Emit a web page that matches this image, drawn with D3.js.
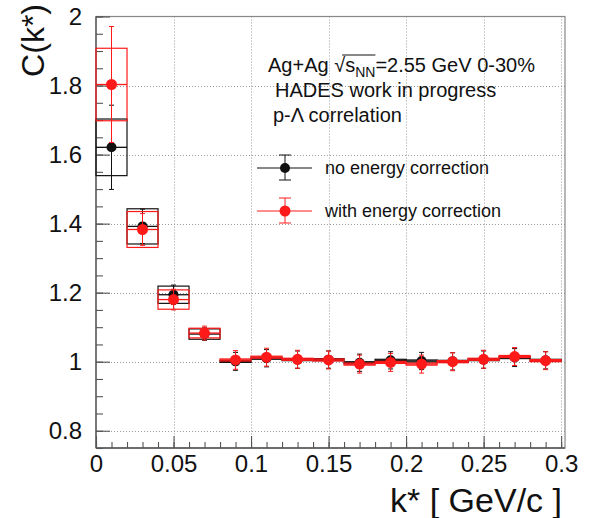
<!DOCTYPE html>
<html>
<head>
<meta charset="utf-8">
<script src="https://cdn.jsdelivr.net/npm/d3@7"></script>
<style>
  html, body { margin: 0; padding: 0; background: #fff; }
  svg { display: block; font-family: "Liberation Sans", Arial, Helvetica, sans-serif; }
</style>
</head>
<body>
<svg id="chart" width="594" height="518"></svg>
<script>
// ---- data ----
const kStar = [0.01, 0.03, 0.05, 0.07, 0.09, 0.11, 0.13, 0.15, 0.17, 0.19, 0.21, 0.23, 0.25, 0.27, 0.29];
const binHalfWidth = 0.01;

const noCorr     = [1.621, 1.392, 1.194, 1.080, 1.001, 1.010, 1.006, 1.006, 0.997, 1.004, 1.002, 1.001, 1.006, 1.012, 1.004];
const noCorrStat = [0.122, 0.050, 0.028, 0.018, 0.026, 0.025, 0.025, 0.025, 0.025, 0.025, 0.025, 0.025, 0.025, 0.026, 0.025];
const noCorrSys  = [0.082, 0.051, 0.025, 0.015, 0.003, 0.003, 0.003, 0.003, 0.003, 0.003, 0.003, 0.003, 0.003, 0.003, 0.003];

const withCorr     = [1.803, 1.383, 1.180, 1.083, 1.005, 1.013, 1.007, 1.005, 0.993, 0.998, 0.993, 1.000, 1.007, 1.015, 1.003];
const withCorrStat = [0.168, 0.046, 0.030, 0.020, 0.027, 0.026, 0.026, 0.026, 0.026, 0.026, 0.026, 0.026, 0.026, 0.026, 0.026];
const withCorrSys  = [0.105, 0.052, 0.028, 0.014, 0.003, 0.003, 0.003, 0.003, 0.003, 0.003, 0.003, 0.003, 0.003, 0.003, 0.003];

const xMajorTicks = [0, 0.05, 0.1, 0.15, 0.2, 0.25, 0.3];
const xTickLabels = ["0", "0.05", "0.1", "0.15", "0.2", "0.25", "0.3"];
const yMajorTicks = [0.8, 1, 1.2, 1.4, 1.6, 1.8, 2];
const yTickLabels = ["0.8", "1", "1.2", "1.4", "1.6", "1.8", "2"];
const xMinorTicks = d3.range(0, 0.3001, 0.01);
const yMinorTicks = d3.range(0.75, 2.0001, 0.05);

const seriesNames = ["no energy correction", "with energy correction"];
const headerLines = ["HADES work in progress", "p-\u039B correlation"];

// ---- layout ----
const L = 96, R = 565, T = 16.5, B = 448;
const x = d3.scaleLinear().domain([0, 0.3025]).range([L, R]);
const y = d3.scaleLinear().domain([0.75, 2.0]).range([B, T]);

const svg = d3.select("#chart");

// grid
const grid = svg.append("g").attr("stroke", "#9a9a9a").attr("stroke-width", 1).attr("stroke-dasharray", "1,2");
grid.selectAll("line.gx").data(xMajorTicks.filter(d => d > 0)).enter().append("line")
  .attr("x1", d => Math.round(x(d)) + 0.5).attr("x2", d => Math.round(x(d)) + 0.5)
  .attr("y1", T).attr("y2", B);
grid.selectAll("line.gy").data(yMajorTicks.filter(d => d < 2)).enter().append("line")
  .attr("y1", d => Math.round(y(d)) + 0.5).attr("y2", d => Math.round(y(d)) + 0.5)
  .attr("x1", L).attr("x2", R);

// frame
svg.append("rect").attr("x", L).attr("y", T).attr("width", R - L).attr("height", B - T)
  .attr("fill", "none").attr("stroke", "#888").attr("stroke-width", 1.2);
svg.append("line").attr("x1", L).attr("x2", L).attr("y1", T).attr("y2", B).attr("stroke", "#555").attr("stroke-width", 1.3);
svg.append("line").attr("x1", L).attr("x2", R).attr("y1", B).attr("y2", B).attr("stroke", "#555").attr("stroke-width", 1.3);

// axes via d3 axis with inward ticks
const xAxisMinor = d3.axisBottom(x).tickValues(xMinorTicks).tickSize(-6).tickFormat("");
const xAxisMajor = d3.axisBottom(x).tickValues(xMajorTicks).tickSize(-12).tickPadding(7)
  .tickFormat((d, i) => xTickLabels[i]);
const yAxisMinor = d3.axisLeft(y).tickValues(yMinorTicks).tickSize(-7).tickFormat("");
const yAxisMajor = d3.axisLeft(y).tickValues(yMajorTicks).tickSize(-14).tickPadding(14)
  .tickFormat((d, i) => yTickLabels[i]);

function styleAxis(g) {
  g.select(".domain").remove();
  g.selectAll(".tick line").attr("stroke", "#555").attr("stroke-width", 1.1);
  g.selectAll(".tick text").attr("fill", "#111").attr("font-size", 24)
    .attr("font-family", "Liberation Sans, Arial, sans-serif");
}
svg.append("g").attr("transform", `translate(0,${B})`).call(xAxisMinor).call(styleAxis);
svg.append("g").attr("transform", `translate(0,${B})`).call(xAxisMajor).call(styleAxis);
svg.append("g").attr("transform", `translate(${L},0)`).call(yAxisMinor).call(styleAxis);
svg.append("g").attr("transform", `translate(${L},0)`).call(yAxisMajor).call(styleAxis);

// axis titles
svg.append("text").attr("x", 562).attr("y", 512).attr("text-anchor", "end")
  .attr("font-size", 34).attr("fill", "#111").text("k* [ GeV/c ]");
svg.append("text").attr("transform", "translate(44,4) rotate(-90)").attr("text-anchor", "end")
  .attr("font-size", 32).attr("fill", "#111").text("C(k*)");

// data series
function drawSeries(vals, stat, sys, color, r) {
  const g = svg.append("g");
  const idx = d3.range(kStar.length);
  // systematic boxes
  g.selectAll("rect.sys").data(idx).enter().append("rect")
    .attr("x", i => x(kStar[i] - binHalfWidth))
    .attr("width", i => x(kStar[i] + binHalfWidth) - x(kStar[i] - binHalfWidth))
    .attr("y", i => y(vals[i] + sys[i]))
    .attr("height", i => y(vals[i] - sys[i]) - y(vals[i] + sys[i]))
    .attr("fill", "none").attr("stroke", color).attr("stroke-width", 1.2);
  // horizontal error (bin width)
  g.selectAll("line.h").data(idx).enter().append("line")
    .attr("x1", i => x(kStar[i] - binHalfWidth)).attr("x2", i => x(kStar[i] + binHalfWidth))
    .attr("y1", i => y(vals[i])).attr("y2", i => y(vals[i]))
    .attr("stroke", color).attr("stroke-width", 1.3);
  // vertical stat error
  g.selectAll("line.v").data(idx).enter().append("line")
    .attr("x1", i => x(kStar[i])).attr("x2", i => x(kStar[i]))
    .attr("y1", i => y(vals[i] + stat[i])).attr("y2", i => y(vals[i] - stat[i]))
    .attr("stroke", color).attr("stroke-width", 1);
  ["+", "-"].forEach(s => {
    g.selectAll("line.c" + (s === "+" ? "t" : "b")).data(idx).enter().append("line")
      .attr("x1", i => x(kStar[i]) - 2.5).attr("x2", i => x(kStar[i]) + 2.5)
      .attr("y1", i => y(vals[i] + (s === "+" ? stat[i] : -stat[i])))
      .attr("y2", i => y(vals[i] + (s === "+" ? stat[i] : -stat[i])))
      .attr("stroke", color).attr("stroke-width", 1);
  });
  // markers
  g.selectAll("circle").data(idx).enter().append("circle")
    .attr("cx", i => x(kStar[i])).attr("cy", i => y(vals[i])).attr("r", r)
    .attr("fill", color);
}
const black = "#111", red = "#ff1a1a";
drawSeries(noCorr, noCorrStat, noCorrSys, black, 5);
drawSeries(withCorr, withCorrStat, withCorrSys, red, 5.5);

// header text
const head = svg.append("text").attr("x", 268).attr("y", 72).attr("font-size", 20).attr("fill", "#111");
head.append("tspan").text("Ag+Ag ");
head.append("tspan").text("\u221A");
head.append("tspan").text("s");
head.append("tspan").attr("font-size", 14).attr("dy", 5).text("NN");
head.append("tspan").attr("dy", -5).text("=2.55 GeV 0-30%");
// overline of the square root
const n0 = "Ag+Ag ".length + 1; // index of "s"
const headNode = head.node();
const ox1 = headNode.getStartPositionOfChar(n0 - 1).x + 8;
const ox2 = headNode.getEndPositionOfChar(n0 + 2).x;
svg.append("line").attr("x1", ox1).attr("x2", ox2).attr("y1", 55).attr("y2", 55)
  .attr("stroke", "#111").attr("stroke-width", 1);

svg.append("text").attr("x", 275).attr("y", 97).attr("font-size", 20).attr("fill", "#111").text(headerLines[0]);
svg.append("text").attr("x", 273).attr("y", 122).attr("font-size", 20).attr("fill", "#111").text(headerLines[1]);

// legend
const legendY = [168, 211];
const legendColors = [black, red];
const legendR = [5, 5.5];
legendY.forEach((ly, i) => {
  const c = legendColors[i];
  const g = svg.append("g");
  g.append("line").attr("x1", 257).attr("x2", 312).attr("y1", ly).attr("y2", ly).attr("stroke", c).attr("stroke-width", 1);
  g.append("line").attr("x1", 285).attr("x2", 285).attr("y1", ly - 13).attr("y2", ly + 12).attr("stroke", c).attr("stroke-width", 1);
  g.append("line").attr("x1", 279).attr("x2", 291).attr("y1", ly - 13).attr("y2", ly - 13).attr("stroke", c).attr("stroke-width", 1);
  g.append("line").attr("x1", 279).attr("x2", 291).attr("y1", ly + 12).attr("y2", ly + 12).attr("stroke", c).attr("stroke-width", 1);
  g.append("circle").attr("cx", 285).attr("cy", ly).attr("r", legendR[i]).attr("fill", c);
  g.append("text").attr("x", 325).attr("y", ly + 6).attr("font-size", 18).attr("fill", "#111").text(seriesNames[i]);
});
</script>
</body>
</html>
